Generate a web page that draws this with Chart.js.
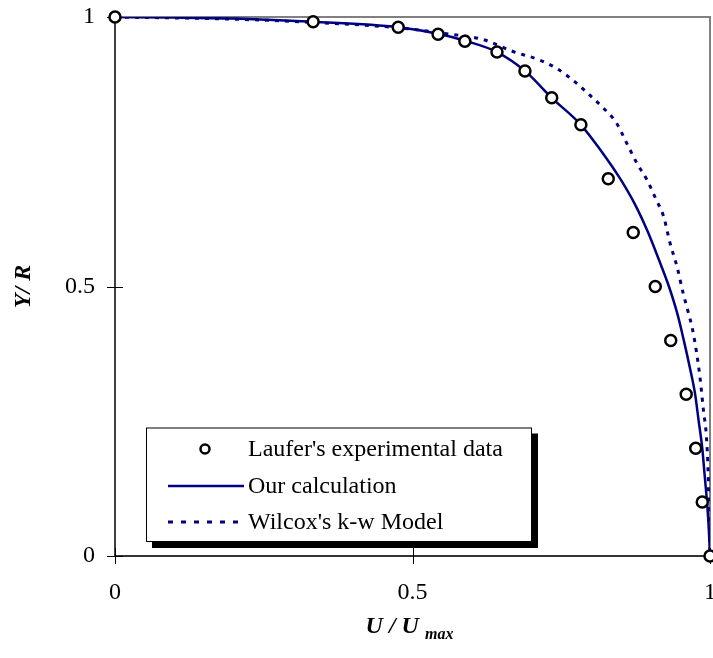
<!DOCTYPE html>
<html><head><meta charset="utf-8">
<script src="https://cdn.jsdelivr.net/npm/chart.js@4.4.1/dist/chart.umd.min.js"></script>
<style>html,body{margin:0;padding:0;background:#fff}canvas{display:block}</style>
</head><body>
<canvas id="c" width="713" height="658"></canvas>
<script>
// ---- data ----
const seriesNames = ["Laufer's experimental data", "Our calculation", "Wilcox's k-w Model"];
const lauferX = [0, 0.333, 0.476, 0.543, 0.588, 0.642, 0.689, 0.734, 0.783, 0.829, 0.871, 0.908, 0.934, 0.960, 0.976, 0.987, 1.0];
const lauferY = [1, 0.991, 0.981, 0.968, 0.955, 0.935, 0.900, 0.850, 0.800, 0.700, 0.600, 0.500, 0.400, 0.300, 0.200, 0.100, 0];
const calcX = [0, 0.1, 0.2, 0.333, 0.476, 0.543, 0.588, 0.642, 0.689, 0.734, 0.783, 0.818, 0.849, 0.875, 0.896, 0.914, 0.931, 0.945, 0.956, 0.966, 0.975, 0.981, 0.987, 0.991, 0.995, 0.998, 1.0];
const calcY = [1, 0.999, 0.997, 0.991, 0.981, 0.969, 0.956, 0.935, 0.900, 0.850, 0.800, 0.750, 0.700, 0.650, 0.600, 0.550, 0.500, 0.450, 0.400, 0.350, 0.300, 0.250, 0.200, 0.150, 0.100, 0.050, 0];
const wilcoxX = [0, 0.2, 0.333, 0.476, 0.55, 0.619, 0.669, 0.714, 0.742, 0.776, 0.798, 0.821, 0.843, 0.860, 0.877, 0.894, 0.910, 0.922, 0.933, 0.945, 0.955, 0.964, 0.972, 0.983, 0.989, 0.994, 0.997, 0.998, 0.999, 1.0];
const wilcoxY = [1, 0.996, 0.990, 0.980, 0.970, 0.958, 0.936, 0.920, 0.905, 0.877, 0.855, 0.831, 0.803, 0.766, 0.729, 0.698, 0.660, 0.630, 0.580, 0.535, 0.487, 0.450, 0.413, 0.333, 0.270, 0.221, 0.150, 0.100, 0.050, 0];
const xTicks = [0, 0.5, 1];
const yTicks = [0, 0.5, 1];

const NAVY = '#000080';
const SERIF = '"Liberation Serif", "Times New Roman", serif';
const pts = (xs, ys) => xs.map((v, i) => ({x: v, y: ys[i]}));
const noPad = s => { s.paddingLeft = 0; s.paddingRight = 0; s.paddingTop = 0; s.paddingBottom = 0; };

const frame = {
  id: 'frame',
  beforeDatasetsDraw(chart) {
    const {ctx, chartArea: a, scales: {x, y}} = chart;
    ctx.save();
    ctx.strokeStyle = '#808080'; ctx.lineWidth = 2;
    ctx.beginPath(); ctx.moveTo(a.left, a.top); ctx.lineTo(a.right, a.top); ctx.lineTo(a.right, a.bottom); ctx.stroke();
    ctx.strokeStyle = '#000'; ctx.lineWidth = 1.5;
    ctx.beginPath(); ctx.moveTo(a.left, a.top); ctx.lineTo(a.left, a.bottom); ctx.stroke();
    ctx.strokeStyle = '#333'; ctx.lineWidth = 2;
    ctx.beginPath(); ctx.moveTo(a.left, a.bottom); ctx.lineTo(a.right, a.bottom); ctx.stroke();
    ctx.strokeStyle = '#000'; ctx.lineWidth = 1;
    xTicks.forEach(v => { const p = Math.round(x.getPixelForValue(v)) + 0.5; ctx.beginPath(); ctx.moveTo(p, a.bottom - 8); ctx.lineTo(p, a.bottom + 8); ctx.stroke(); });
    yTicks.forEach(v => { const p = Math.round(y.getPixelForValue(v)) + 0.5; ctx.beginPath(); ctx.moveTo(a.left - 8, p); ctx.lineTo(a.left + 8, p); ctx.stroke(); });
    ctx.restore();
  },
  afterDraw(chart) {
    const {ctx, chartArea: a} = chart;
    ctx.save();
    // x title
    ctx.fillStyle = '#000';
    ctx.textBaseline = 'alphabetic';
    const f1 = 'italic bold 24px ' + SERIF, f2 = 'italic bold 16px ' + SERIF;
    ctx.font = f1; const w1 = ctx.measureText('U / U ').width;
    ctx.font = f2; const w2 = ctx.measureText('max').width;
    const cx = (a.left + a.right) / 2 - 3;
    let sx = cx - (w1 + w2) / 2;
    ctx.font = f1; ctx.textAlign = 'left'; ctx.fillText('U / U ', sx, 633);
    ctx.font = f2; ctx.fillText('max', sx + w1, 639);
    // y title
    ctx.translate(24, (a.top + a.bottom) / 2);
    ctx.rotate(-Math.PI / 2);
    ctx.font = 'italic bold 24px ' + SERIF; ctx.textAlign = 'center'; ctx.textBaseline = 'middle';
    ctx.fillText('Y/ R', 0, 0);
    ctx.restore();

    // legend
    ctx.save();
    const L = 146, T = 427.5, R = 532, B = 542;
    ctx.fillStyle = '#000';
    ctx.fillRect(L + 6, T + 6, R - L, B - T);
    ctx.fillStyle = '#fff';
    ctx.fillRect(L, T, R - L, B - T);
    ctx.strokeStyle = '#000'; ctx.lineWidth = 1;
    ctx.strokeRect(L + 0.5, T + 0.5, R - L - 1, B - T - 1);
    const rows = [449, 486, 522];
    const ds = chart.data.datasets;
    ctx.beginPath(); ctx.arc(205, rows[0], 4.5, 0, Math.PI * 2);
    ctx.fillStyle = '#fff'; ctx.fill(); ctx.lineWidth = 2.5; ctx.strokeStyle = '#000'; ctx.stroke();
    ctx.strokeStyle = ds[1].borderColor; ctx.lineWidth = 2.5;
    ctx.beginPath(); ctx.moveTo(168, rows[1]); ctx.lineTo(244, rows[1]); ctx.stroke();
    ctx.setLineDash([5, 8]); ctx.lineWidth = 3;
    ctx.beginPath(); ctx.moveTo(168, rows[2]); ctx.lineTo(244, rows[2]); ctx.stroke();
    ctx.setLineDash([]);
    ctx.fillStyle = '#000'; ctx.font = '24px ' + SERIF; ctx.textAlign = 'left'; ctx.textBaseline = 'middle';
    seriesNames.forEach((n, i) => ctx.fillText(n, 248, rows[i] + 1));
    ctx.restore();
  }
};

new Chart(document.getElementById('c'), {
  type: 'scatter',
  data: {
    datasets: [
      { label: seriesNames[0], data: pts(lauferX, lauferY), showLine: false,
        pointRadius: 5.5, pointBorderWidth: 2.5, pointBorderColor: '#000', pointBackgroundColor: '#fff', clip: false },
      { label: seriesNames[1], data: pts(calcX, calcY), showLine: true, borderColor: NAVY, borderWidth: 2.5,
        pointRadius: 0, cubicInterpolationMode: 'monotone', fill: false },
      { label: seriesNames[2], data: pts(wilcoxX, wilcoxY), showLine: true, borderColor: NAVY, borderWidth: 3,
        borderDash: [4, 6], pointRadius: 0, cubicInterpolationMode: 'monotone', fill: false }
    ]
  },
  options: {
    responsive: false, animation: false, devicePixelRatio: 1,
    layout: { autoPadding: false, padding: { left: 0, top: 17, right: 3, bottom: 0 } },
    plugins: { legend: { display: false }, tooltip: { enabled: false } },
    scales: {
      x: { type: 'linear', min: 0, max: 1,
        afterFit: s => { s.height = 102; noPad(s); },
        afterBuildTicks: s => { s.ticks = xTicks.map(v => ({value: v})); },
        grid: { display: false, drawTicks: false }, border: { display: false },
        ticks: { padding: 22, color: '#000', font: { family: SERIF, size: 24 }, maxRotation: 0, callback: v => String(v) } },
      y: { type: 'linear', min: 0, max: 1,
        afterFit: s => { s.width = 115; noPad(s); },
        afterBuildTicks: s => { s.ticks = yTicks.map(v => ({value: v})); },
        grid: { display: false, drawTicks: false }, border: { display: false },
        ticks: { padding: 20, color: '#000', font: { family: SERIF, size: 24 }, callback: v => String(v) } }
    }
  },
  plugins: [frame]
});
</script>
</body></html>
